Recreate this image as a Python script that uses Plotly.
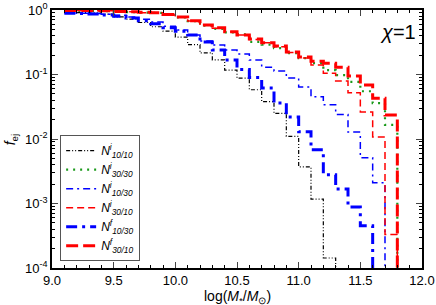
import plotly.graph_objects as go

# bin edges (log M*/Msun)
edges = [9.1, 9.2, 9.3, 9.4, 9.5, 9.6, 9.7, 9.8, 9.9, 10.0, 10.1, 10.2, 10.3, 10.4,
         10.5, 10.6, 10.7, 10.8, 10.9, 11.0, 11.1, 11.2, 11.3, 11.4, 11.5, 11.6, 11.7, 11.8]

ni_10_10 = [0.92, 0.91, 0.90, 0.86, 0.78, 0.72, 0.64, 0.55, 0.47, 0.38, 0.29, 0.216, 0.168,
            0.117, 0.088, 0.058, 0.038, 0.025, 0.011, 0.0037, 0.00117, 0.000143]
ni_30_30 = [0.97, 0.97, 0.96, 0.96, 0.94, 0.93, 0.91, 0.90, 0.84, 0.77, 0.67, 0.57, 0.51,
            0.45, 0.42, 0.32, 0.29, 0.257, 0.215, 0.18, 0.15, 0.117, 0.098, 0.077, 0.055,
            0.036, 0.0165]
ni_10_30 = [0.90, 0.89, 0.88, 0.86, 0.83, 0.78, 0.72, 0.65, 0.56, 0.49, 0.41, 0.33, 0.287,
            0.24, 0.208, 0.168, 0.13, 0.113, 0.088, 0.064, 0.045, 0.034, 0.024, 0.0128,
            0.0051, 0.0021]
ni_30_10 = [0.98, 0.98, 0.97, 0.97, 0.94, 0.94, 0.91, 0.91, 0.84, 0.78, 0.675, 0.58, 0.52,
            0.46, 0.41, 0.35, 0.31, 0.27, 0.22, 0.18, 0.14, 0.105, 0.079, 0.052, 0.0263,
            0.0107, 0.00033]
nf_10_30 = [0.89, 0.88, 0.87, 0.84, 0.80, 0.75, 0.68, 0.61, 0.53, 0.47, 0.41, 0.32, 0.24,
            0.168, 0.12, 0.09, 0.062, 0.036, 0.022, 0.0129, 0.0068, 0.0028, 0.00168,
            0.00088, 0.00045]
nf_30_10 = [0.98, 0.98, 0.98, 0.97, 0.95, 0.94, 0.92, 0.91, 0.85, 0.78, 0.68, 0.585, 0.53,
            0.46, 0.41, 0.355, 0.31, 0.277, 0.223, 0.187, 0.16, 0.15, 0.13, 0.095, 0.069,
            0.043, 0.0235]

x_ticks = [9.0, 9.5, 10.0, 10.5, 11.0, 11.5, 12.0]
x_tick_text = ["9.0", "9.5", "10.0", "10.5", "11.0", "11.5", "12.0"]
y_ticks = [1e-4, 1e-3, 1e-2, 1e-1, 1]
y_tick_text = ["10<sup>-4</sup>", "10<sup>-3</sup>", "10<sup>-2</sup>", "10<sup>-1</sup>", "10<sup>0</sup>"]

FLOOR = 1e-6  # drop below axis


def step(vals):
    xs = edges[:len(vals) + 1]
    ys = list(vals) + [FLOOR]
    return xs, ys


series = [
    ("<i>N</i><sup><i>i</i></sup><sub><i>10/10</i></sub>", ni_10_10, "black", 1.2, "4px,2px,1px,2px,1px,2px"),
    ("<i>N</i><sup><i>i</i></sup><sub><i>30/30</i></sub>", ni_30_30, "#1a9a1a", 2.2, "2px,5px"),
    ("<i>N</i><sup><i>i</i></sup><sub><i>10/30</i></sub>", ni_10_30, "blue", 1.5, "7px,4px,2px,4px"),
    ("<i>N</i><sup><i>i</i></sup><sub><i>30/10</i></sub>", ni_30_10, "red", 1.5, "7px,4px"),
    ("<i>N</i><sup><i>f</i></sup><sub><i>10/30</i></sub>", nf_10_30, "blue", 3, "11px,5px,3px,5px"),
    ("<i>N</i><sup><i>f</i></sup><sub><i>30/10</i></sub>", nf_30_10, "red", 3, "12px,5px"),
]

fig = go.Figure()
for name, vals, col, w, dash in series:
    xs, ys = step(vals)
    fig.add_trace(go.Scatter(x=xs, y=ys, mode="lines", name=name,
                             line=dict(color=col, width=w, dash=dash, shape="hv")))

font = "Liberation Sans, Arial, sans-serif"
fig.update_layout(
    width=436, height=305,
    margin=dict(l=52, r=14, t=10, b=37, autoexpand=False),
    paper_bgcolor="white", plot_bgcolor="white",
    font=dict(family=font, size=13, color="black"),
    showlegend=True,
    legend=dict(x=0.022, y=0.515, xanchor="left", yanchor="top",
                bordercolor="#555", borderwidth=1, bgcolor="white",
                font=dict(size=12), tracegroupgap=0, itemwidth=30),
    xaxis=dict(range=[9.0, 12.0], tickvals=x_ticks, ticktext=x_tick_text, automargin=False,
               ticks="inside", ticklen=6, tickwidth=1.2, showline=True, linecolor="black",
               linewidth=1.5, mirror="ticks", showgrid=False, zeroline=False,
               minor=dict(dtick=0.1, ticks="inside", ticklen=3, tickcolor="black", showgrid=False),
               tickfont=dict(size=13)),
    yaxis=dict(type="log", range=[-4, 0], tickvals=y_ticks, ticktext=y_tick_text, automargin=False,
               ticks="inside", ticklen=6, tickwidth=1.2, showline=True, linecolor="black",
               linewidth=1.5, mirror="ticks", showgrid=False, zeroline=False,
               minor=dict(dtick="D1", ticks="inside", ticklen=3, tickcolor="black", showgrid=False),
               tickfont=dict(size=13)),
    annotations=[
        dict(text="<i>χ</i>=1", x=0.99, y=0.965, xref="paper", yref="paper",
             xanchor="right", yanchor="top", showarrow=False,
             font=dict(size=20, family=font)),
        dict(text="log(<i>M</i><sub>*</sub>/<i>M</i><sub>⊙</sub>)", x=0.5, y=-0.068,
             xref="paper", yref="paper", xanchor="center", yanchor="top",
             showarrow=False, font=dict(size=14, family=font)),
        dict(text="<i>f</i><sub>ej</sub>", x=-0.11, y=0.5, xref="paper", yref="paper",
             xanchor="center", yanchor="middle", textangle=-90,
             showarrow=False, font=dict(size=14, family=font)),
    ],
)

fig.write_html("out.html", config={"displayModeBar": False},
               post_script="document.body.style.margin='0';document.body.style.overflow='hidden';")
